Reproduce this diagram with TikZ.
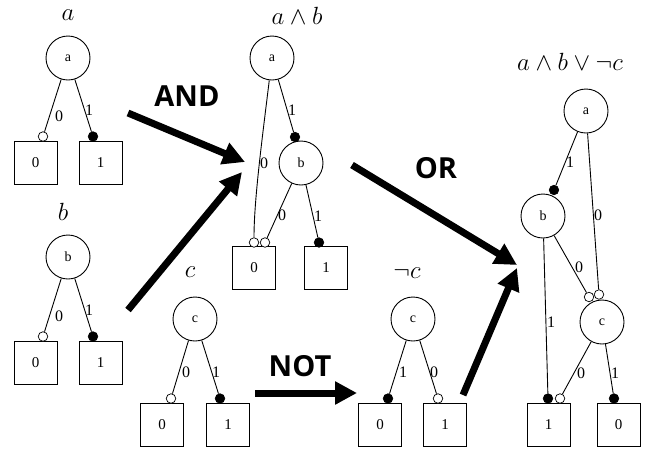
\documentclass[tikz,border=0pt]{standalone}
\usepackage{fontspec}
\newfontfamily\lserif{Liberation Serif}
\newfontfamily\opsans{Open Sans}
\usetikzlibrary{arrows.meta}
\tikzset{
 var/.style={circle,draw,line width=0.9pt,minimum size=44pt,inner sep=0pt,font=\lserif\fontsize{14}{14}\selectfont},
 term/.style={rectangle,draw,line width=0.9pt,minimum size=43pt,inner sep=0pt,font=\lserif\fontsize{15}{15}\selectfont},
 hi/.style={circle,draw,line width=0.7pt,fill=black,minimum size=9.5pt,inner sep=0pt},
 lo/.style={circle,draw,line width=0.7pt,fill=white,minimum size=9.5pt,inner sep=0pt},
 elab/.style={font=\lserif\fontsize{16}{16}\selectfont,inner sep=0pt},
 ttl/.style={font=\fontsize{25}{25}\selectfont,inner sep=0pt},
 opl/.style={font=\opsans\bfseries\fontsize{29}{29}\selectfont,inner sep=0pt},
 bigarrow/.style={line width=7pt,-{Triangle[length=22pt,width=22pt]}},
 edg/.style={line width=0.9pt}
}
\begin{document}
\begin{tikzpicture}[x=1pt,y=-1pt]
\path[use as bounding box] (0,0) rectangle (649,451);

% ---------- tree a ----------
\node[ttl] (tta) at (68,15) {$a$};
\node[var] (ta) at (68,58) {a};
\node[term] (ta0) at (35.5,162.5) {0};
\node[term] (ta1) at (100.5,162.5) {1};
\node[lo] (ta0d) at (43,136.5) {};
\node[hi] (ta1d) at (93,136.5) {};
\draw[edg] (ta) -- (ta0d);
\draw[edg] (ta) -- (ta1d);
\node[elab] (la0) at (59,116) {0};
\node[elab] (la1) at (89,110) {1};

% ---------- tree b ----------
\node[ttl] (ttb) at (63,212) {$b$};
\node[var] (tb) at (68,257) {b};
\node[term] (tb0) at (35.5,362.5) {0};
\node[term] (tb1) at (100.5,362.5) {1};
\node[lo] (tb0d) at (43,336.5) {};
\node[hi] (tb1d) at (93,336.5) {};
\draw[edg] (tb) -- (tb0d);
\draw[edg] (tb) -- (tb1d);
\node[elab] (lb0) at (59,316) {0};
\node[elab] (lb1) at (89,310) {1};

% ---------- tree c ----------
\node[ttl] (ttc) at (190,272) {$c$};
\node[var] (tc) at (195,319) {c};
\node[term] (tc0) at (162,425) {0};
\node[term] (tc1) at (228,425) {1};
\node[lo] (tc0d) at (171,398.5) {};
\node[hi] (tc1d) at (220,398.5) {};
\draw[edg] (tc) -- (tc0d);
\draw[edg] (tc) -- (tc1d);
\node[elab] (lc0) at (186,372) {0};
\node[elab] (lc1) at (216,372) {1};

% ---------- tree not c ----------
\node[ttl] (ttn) at (407,273) {$\neg c$};
\node[var] (tn) at (413,319) {c};
\node[term] (tn0) at (380,425) {0};
\node[term] (tn1) at (445,425) {1};
\node[hi] (tn0d) at (388,398.5) {};
\node[lo] (tn1d) at (438,398.5) {};
\draw[edg] (tn) -- (tn0d);
\draw[edg] (tn) -- (tn1d);
\node[elab] (ln1) at (403,372) {1};
\node[elab] (ln0) at (434,372) {0};

% ---------- tree a and b ----------
\node[ttl] (ttab) at (297,16) {$a \wedge b$};
\node[var] (pa) at (272,58) {a};
\node[var] (pb) at (301,163) {b};
\node[term] (p0) at (254,268) {0};
\node[term] (p1) at (326,268) {1};
\node[hi] (pbd) at (295,137) {};
\node[lo] (p0da) at (254,242.5) {};
\node[lo] (p0db) at (265,242.5) {};
\node[hi] (p1d) at (319,242.5) {};
\draw[edg] (pa) -- (pbd);
\draw[edg] (pa) .. controls (262,140) and (254,200) .. (p0da);
\draw[edg] (pb) -- (p0db);
\draw[edg] (pb) -- (p1d);
\node[elab] (lp1) at (292,110) {1};
\node[elab] (lp0) at (264,163) {0};
\node[elab] (lpb0) at (282,215) {0};
\node[elab] (lpb1) at (318,216) {1};

% ---------- final tree ----------
\node[ttl] (ttf) at (570,62) {$a \wedge b \vee \neg c$};
\node[var] (fa) at (586,111) {a};
\node[var] (fb) at (543,216) {b};
\node[var] (fc) at (602,322) {c};
\node[term] (f1) at (548.5,425) {1};
\node[term] (f0) at (618.5,425) {0};
\node[hi] (fbd) at (554,190) {};
\node[lo] (fcda) at (599,294.5) {};
\node[lo] (fcdb) at (589,297) {};
\node[hi] (f1db) at (548,398.5) {};
\node[lo] (f1dc) at (560,398.5) {};
\node[hi] (f0dc) at (614,398.5) {};
\draw[edg] (fa) -- (fbd);
\draw[edg] (fa) -- (fcda);
\draw[edg] (fb) -- (fcdb);
\draw[edg] (fb) -- (f1db);
\draw[edg] (fc) -- (f1dc);
\draw[edg] (fc) -- (f0dc);
\node[elab] (lf1) at (570,162) {1};
\node[elab] (lf2) at (598,215) {0};
\node[elab] (lf3) at (579,267) {0};
\node[elab] (lf4) at (551,322) {1};
\node[elab] (lf5) at (581,373) {0};
\node[elab] (lf6) at (615,373) {1};

% ---------- operation arrows ----------
\coordinate (and1s) at (128,113);
\coordinate (and1e) at (245,162);
\coordinate (and2s) at (128,310);
\coordinate (and2e) at (242,172);
\coordinate (or1s) at (352,165);
\coordinate (or1e) at (517,265);
\coordinate (or2s) at (463,395);
\coordinate (or2e) at (517,268);
\coordinate (nots) at (255,393);
\coordinate (note) at (357,393);
\draw[bigarrow] (and1s) -- (and1e);
\draw[bigarrow] (and2s) -- (and2e);
\draw[bigarrow] (or1s) -- (or1e);
\draw[bigarrow] (or2s) -- (or2e);
\draw[bigarrow] (nots) -- (note);
\node[opl] (andl) at (187,96) {AND};
\node[opl] (orl) at (436,168) {OR};
\node[opl] (notl) at (300,366) {NOT};
\end{tikzpicture}
\end{document}
